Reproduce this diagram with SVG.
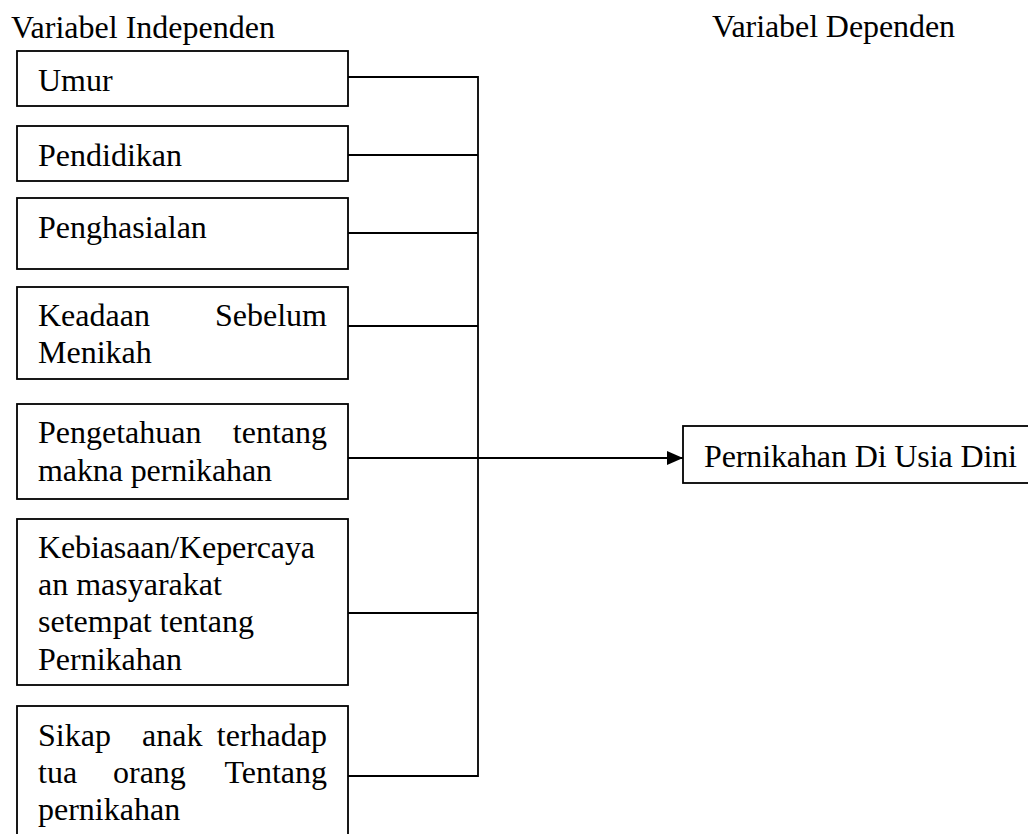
<svg xmlns="http://www.w3.org/2000/svg" width="1028" height="834" viewBox="0 0 1028 834">
<style>
.box{fill:#fff;stroke:#000;stroke-width:1.8}
.t{font-family:'Liberation Serif',Tinos,'Times New Roman',Times,'Nimbus Roman','DejaVu Serif',serif;font-size:32px;fill:#000}
.c{stroke:#000;stroke-width:1.8;fill:none}
</style>
<defs>
<marker id="ah" markerWidth="16" markerHeight="16" refX="16" refY="8" orient="auto" markerUnits="userSpaceOnUse">
<path d="M0,1 L16,8 L0,15 Z" fill="#000"/>
</marker>
</defs>
<rect width="1028" height="834" fill="#fff"/>
<text class="t" x="11" y="38" textLength="264">Variabel Independen</text>
<text class="t" x="712" y="37" textLength="243">Variabel Dependen</text>
<g id="connectors">
<path class="c" d="M348,77 H478 V776 H348"/>
<path class="c" d="M348,155 H478"/>
<path class="c" d="M348,233 H478"/>
<path class="c" d="M348,326 H478"/>
<path class="c" d="M348,613 H478"/>
<path class="c" d="M348,458 H683" marker-end="url(#ah)"/>
</g>
<g id="umur">
<rect class="box" x="17" y="51" width="331" height="55"/>
<text class="t" x="38" y="91">Umur</text>
</g>
<g id="pendidikan">
<rect class="box" x="17" y="126" width="331" height="55"/>
<text class="t" x="38" y="166">Pendidikan</text>
</g>
<g id="penghasilan">
<rect class="box" x="17" y="198" width="331" height="71"/>
<text class="t" x="38" y="238">Penghasialan</text>
</g>
<g id="keadaan">
<rect class="box" x="17" y="287" width="331" height="92"/>
<text class="t" x="38" y="326">Keadaan</text>
<text class="t" x="327" y="326" text-anchor="end">Sebelum</text>
<text class="t" x="38" y="363">Menikah</text>
</g>
<g id="pengetahuan">
<rect class="box" x="17" y="404" width="331" height="95"/>
<text class="t" x="38" y="443">Pengetahuan</text>
<text class="t" x="327" y="443" text-anchor="end">tentang</text>
<text class="t" x="38" y="481" textLength="234">makna pernikahan</text>
</g>
<g id="kebiasaan">
<rect class="box" x="17" y="519" width="331" height="166"/>
<text class="t" x="38" y="558" textLength="277">Kebiasaan/Kepercaya</text>
<text class="t" x="38" y="595">an masyarakat</text>
<text class="t" x="38" y="632">setempat tentang</text>
<text class="t" x="38" y="670">Pernikahan</text>
</g>
<g id="sikap">
<rect class="box" x="17" y="706" width="331" height="140"/>
<text class="t" x="38" y="746">Sikap</text>
<text class="t" x="142" y="746">anak</text>
<text class="t" x="327" y="746" text-anchor="end">terhadap</text>
<text class="t" x="38" y="783">tua</text>
<text class="t" x="113" y="783">orang</text>
<text class="t" x="327" y="783" text-anchor="end">Tentang</text>
<text class="t" x="38" y="820">pernikahan</text>
</g>
<g id="pernikahan-dini">
<rect class="box" x="683" y="426" width="360" height="57"/>
<text class="t" x="704" y="467" textLength="313">Pernikahan Di Usia Dini</text>
</g>
</svg>
